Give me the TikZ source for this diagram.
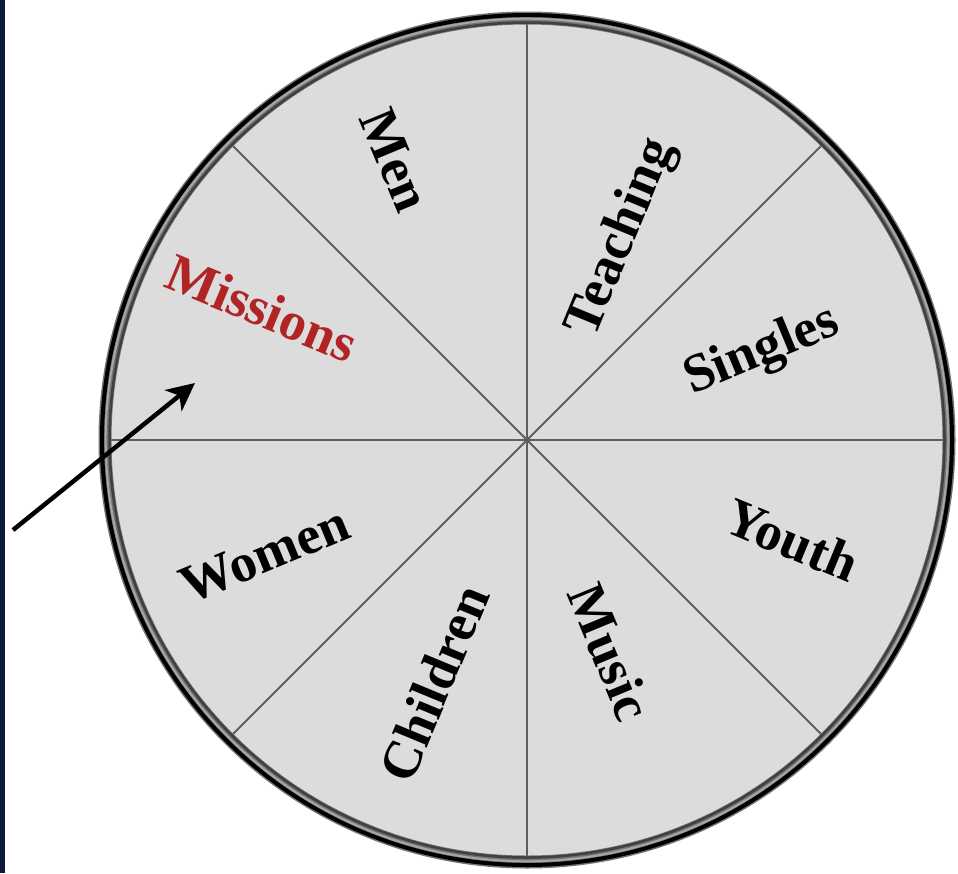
\documentclass[tikz,border=0pt]{standalone}
\usepackage{fontspec}
\setmainfont{Liberation Serif}
\usetikzlibrary{arrows.meta}
\definecolor{navystrip}{RGB}{14,26,58}
\definecolor{wheelfill}{RGB}{220,220,220}
\definecolor{ringgray}{RGB}{115,115,115}
\definecolor{divgray}{RGB}{95,95,95}
\definecolor{missred}{RGB}{176,36,38}
\begin{document}
\begin{tikzpicture}[x=1pt,y=-1pt,
  lbl/.style={font=\fontsize{54}{54}\selectfont\bfseries, inner sep=0pt, text=black},
  divider/.style={draw=divgray, line width=2pt},
  pointer/.style={draw=black, line width=4.5pt, -{Stealth[length=28pt,width=27pt,inset=8pt]}}]
\useasboundingbox (0,0) rectangle (958,873);
\fill[white] (0,0) rectangle (958,873);
\fill[navystrip] (0,0) rectangle (5,873);
\coordinate (c) at (527,440);
\fill[wheelfill] (c) circle (424);
\foreach \a in {0,45,...,315} \draw[divider] (c) -- ++(\a:416);
% ring
\draw[ringgray, line width=13pt] (c) circle (422);
\draw[black, line width=4pt] (c) circle (425);
\draw[black!75, line width=2.5pt] (c) circle (417.5);
\draw[black!35, line width=2pt] (c) circle (421.3);
% labels
\node[lbl, rotate=-67.5] (men) at (395,160) {Men};
\node[lbl, rotate=67.5] (teaching) at (622,238) {Teaching};
\node[lbl, rotate=22.5] (singles) at (762,352) {Singles};
\node[lbl, rotate=-22.5] (youth) at (792,540) {Youth};
\node[lbl, rotate=-67.5] (music) at (610,652) {Music};
\node[lbl, rotate=67.5] (children) at (434,683) {Children};
\node[lbl, rotate=22.5] (women) at (265,555) {Women};
\node[lbl, rotate=-22.5, text=missred] (missions) at (262,308) {Missions};
% arrow
\coordinate (tail) at (13,530);
\coordinate (tip) at (195,383);
\draw[pointer] (tail) -- (tip);
\end{tikzpicture}
\end{document}
